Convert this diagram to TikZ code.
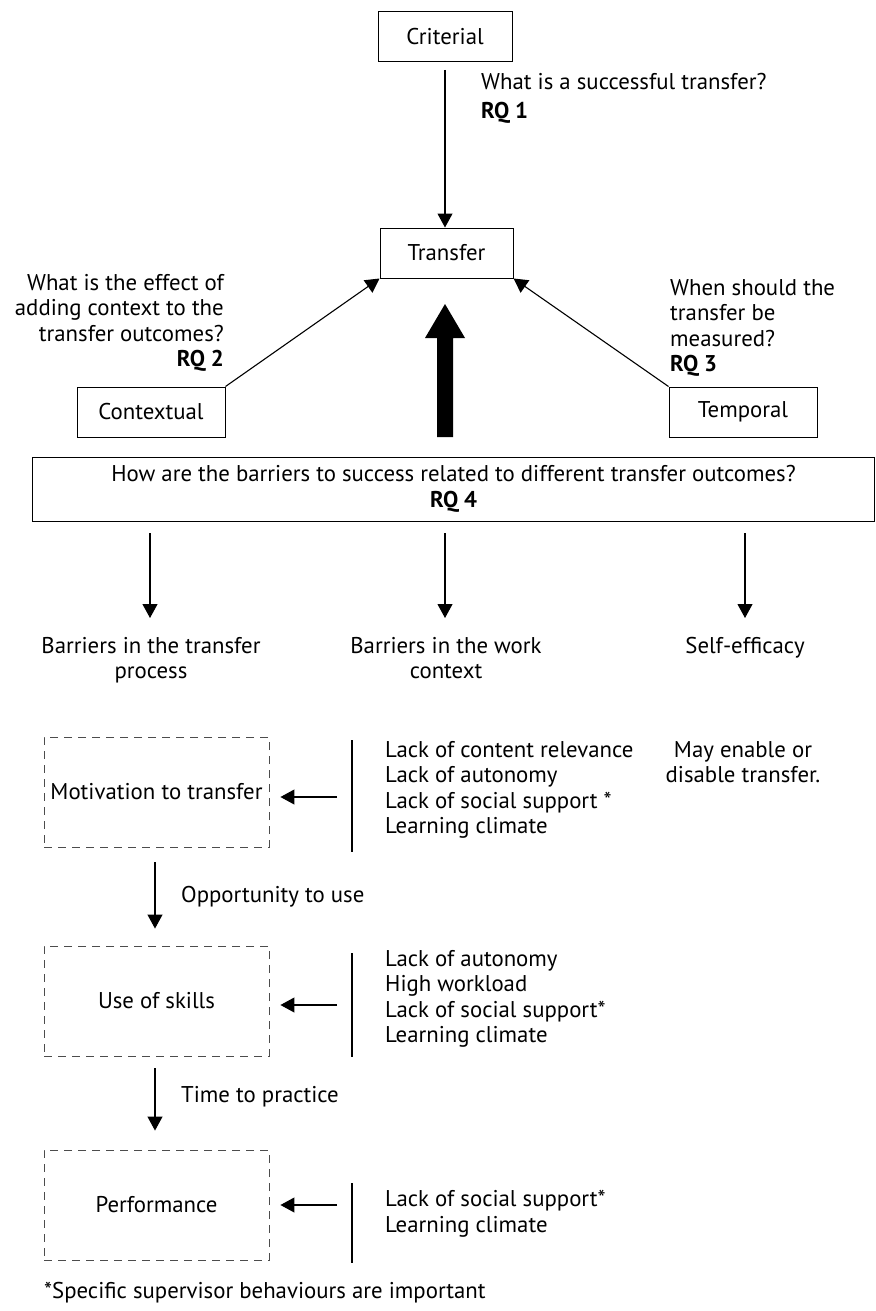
\documentclass[tikz,border=0pt]{standalone}
\usepackage{fontspec}
\setmainfont{PT Sans}
\usetikzlibrary{arrows.meta}
\begin{document}
\begin{tikzpicture}[x=1pt,y=-1pt,
  every node/.style={font=\fontsize{22.8}{25.5}\selectfont, inner sep=0pt},
  solidbox/.style={draw, line width=1pt, minimum height=50pt},
  dashbox/.style={draw=black!70, dashed, dash pattern=on 8pt off 6pt, line width=0.9pt, minimum width=225pt, minimum height=110pt},
  arr/.style={-{Triangle[length=14pt,width=15pt]}, line width=1.1pt},
  plain/.style={line width=1.4pt},
  txt/.style={align=left, anchor=north west},
]
\useasboundingbox (0,0) rectangle (875,1311);

% top: criterion, transfer, context, time
\node[solidbox, minimum width=134pt] (crit) at (445,37) {Criterial};
\node[solidbox, minimum width=133pt] (trans) at (446.5,253) {Transfer};
\node[solidbox, minimum width=148pt] (ctx) at (151,412) {Contextual};
\node[solidbox, minimum width=148pt] (temp) at (743,412) {Temporal};
\coordinate (critout) at (445,70);
\draw[arr] (critout) -- (trans.north -| critout);
\draw[arr] (ctx.north east) -- (trans.south west);
\draw[arr] (temp.north west) -- (trans.south east);

\node[txt] (rq1) at (481,73) {What is a successful transfer?\\[4pt]\textbf{RQ 1}};
\node[align=right, anchor=north east] (rq2) at (224,274) {What is the effect of\\adding context to the\\transfer outcomes?\\\textbf{RQ 2}};
\node[txt] (rq3) at (670,279) {When should the\\transfer be\\measured?\\\textbf{RQ 3}};

% wide thick arrow into the transfer box
\fill (437,437) -- (437,338) -- (425,338) -- (445,304) -- (465,338) -- (453,338) -- (453,437) -- cycle;

% research question 4 banner
\node[draw, line width=1pt, minimum width=842pt, minimum height=64pt, align=center] (rq4) at (453.5,489)
  {How are the barriers to success related to different transfer outcomes?\\\textbf{RQ 4}};

% three branches
\coordinate (b1s) at (150,533);
\coordinate (b2s) at (445,533);
\coordinate (b3s) at (745,533);
\coordinate (b1e) at (150,618);
\coordinate (b2e) at (445,618);
\coordinate (b3e) at (745,618);
\draw[arr] (b1s) -- (b1e);
\draw[arr] (b2s) -- (b2e);
\draw[arr] (b3s) -- (b3e);
\node[align=center, anchor=north] (l1) at (151,637) {Barriers in the transfer\\process};
\node[align=center, anchor=north] (l2) at (446,637) {Barriers in the work\\context};
\node[align=center, anchor=north] (l3) at (745,637) {Self-efficacy};

% transfer process stages
\node[dashbox] (mot) at (156.5,792) {Motivation to transfer};
\node[dashbox] (use) at (156.5,1001) {Use of skills};
\node[dashbox] (perf) at (156.5,1205) {Performance};

\coordinate (m1) at (155,862);
\coordinate (m2) at (155,1068);
\draw[arr] (m1) -- ([yshift=17pt]use.north -| m1);
\draw[arr] (m2) -- ([yshift=19pt]perf.north -| m2);
\node[txt] (opp) at (181,886) {Opportunity to use};
\node[txt] (time) at (181,1086) {Time to practice};

% barriers in the work context
\coordinate (v1a) at (352,740); \coordinate (v1b) at (352,852);
\coordinate (v2a) at (352,953); \coordinate (v2b) at (352,1057);
\coordinate (v3a) at (352,1183); \coordinate (v3b) at (352,1263);
\draw[plain] (v1a) -- (v1b);
\draw[plain] (v2a) -- (v2b);
\draw[plain] (v3a) -- (v3b);
\coordinate (a1) at (337,797);
\coordinate (a2) at (337,1005);
\coordinate (a3) at (337,1205);
\draw[arr] (a1) -- ([xshift=11pt]a1 -| mot.east);
\draw[arr] (a2) -- ([xshift=11pt]a2 -| use.east);
\draw[arr] (a3) -- ([xshift=11pt]a3 -| perf.east);

\node[txt] (w1) at (385,741) {Lack of content relevance\\Lack of autonomy\\Lack of social support *\\Learning climate};
\node[txt] (w2) at (385,950) {Lack of autonomy\\High workload\\Lack of social support*\\Learning climate};
\node[txt] (w3) at (385,1190) {Lack of social support*\\Learning climate};

\node[align=center, anchor=north] (se) at (743,741) {May enable or\\disable transfer.};

\node[txt] (foot) at (44,1282) {*Specific supervisor behaviours are important};
\end{tikzpicture}
\end{document}
